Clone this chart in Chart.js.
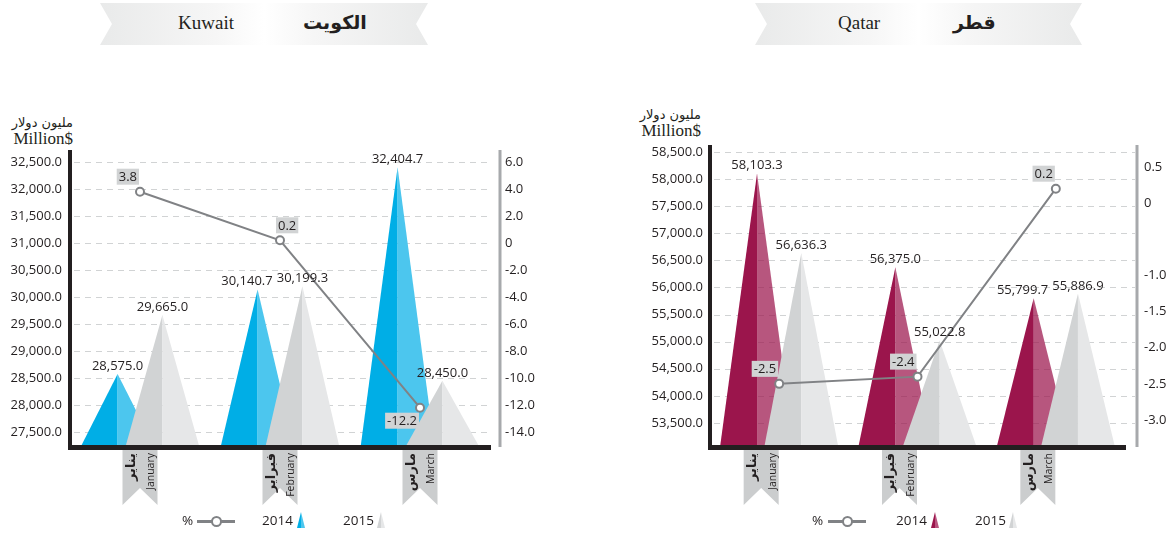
<!DOCTYPE html>
<html lang="en">
<head>
<meta charset="UTF-8">
<title>Kuwait / Qatar</title>
<script src="https://cdn.jsdelivr.net/npm/chart.js"></script>
<style>
  body { margin:0; width:1175px; height:533px; position:relative; overflow:hidden; background:#fff;
         font-family:"Open Sans", sans-serif; color:#231f20; }
  canvas { position:absolute; top:0; }
  .banner { position:absolute; top:3px; height:42px;
            background:linear-gradient(90deg,#e9eaea 0%,#f6f6f6 35%,#fff 50%,#f6f6f6 65%,#e9eaea 100%);
            clip-path:polygon(0 0,100% 0,calc(100% - 12px) 50%,100% 100%,0 100%,12px 50%); }
  .banner .en { position:absolute; top:9px; font-family:"Liberation Serif", serif; font-size:19px; }
  .banner .ar { position:absolute; top:8px; font-family:"DejaVu Sans", sans-serif; font-weight:bold; font-size:19px; }
  .unit { position:absolute; width:70px; text-align:right; }
  .unit .ar { font-family:"DejaVu Sans", sans-serif; font-size:13px; line-height:14px; }
  .unit .en { font-family:"Liberation Serif", serif; font-size:17px; line-height:17px; }
  .lg { position:absolute; top:511px; font-size:13.5px; line-height:18px; }
  .lgline { position:absolute; top:520px; height:3px; width:38px; background:#808285; }
  .lgdot { position:absolute; top:516px; width:7px; height:7px; border:2px solid #808285; border-radius:50%; background:#fff; }
  .tri { position:absolute; top:512px; width:8px; height:16px; clip-path:polygon(50% 0,100% 100%,0 100%); }
</style>
</head>
<body>
  <div class="banner" style="left:100px;width:328px">
    <span class="en" style="left:78px">Kuwait</span>
    <span class="ar" style="left:203px">الكويت</span>
  </div>
  <div class="banner" style="left:755px;width:327px">
    <span class="en" style="left:83px">Qatar</span>
    <span class="ar" style="left:198px">قطر</span>
  </div>

  <div class="unit" style="left:3px;top:116px"><div class="ar">مليون دولار</div><div class="en">Million$</div></div>
  <div class="unit" style="left:631px;top:108px"><div class="ar">مليون دولار</div><div class="en">Million$</div></div>

  <canvas id="kuwait" width="560" height="533" style="left:0"></canvas>
  <canvas id="qatar" width="585" height="533" style="left:590px"></canvas>

  <!-- legends -->
  <span class="lg" style="left:182px">%</span>
  <div class="lgline" style="left:197px"></div>
  <div class="lgdot" style="left:211px"></div>
  <span class="lg" style="left:262px">2014</span>
  <div class="tri" style="left:297px;background:linear-gradient(90deg,#00aee6 50%,#4cc6ee 50%)"></div>
  <span class="lg" style="left:343px">2015</span>
  <div class="tri" style="left:377px;background:linear-gradient(90deg,#d1d3d4 50%,#e6e7e8 50%)"></div>

  <span class="lg" style="left:812px">%</span>
  <div class="lgline" style="left:828px"></div>
  <div class="lgdot" style="left:842px"></div>
  <span class="lg" style="left:896px">2014</span>
  <div class="tri" style="left:931px;background:linear-gradient(90deg,#9b154c 50%,#b9557f 50%)"></div>
  <span class="lg" style="left:975px">2015</span>
  <div class="tri" style="left:1009px;background:linear-gradient(90deg,#d1d3d4 50%,#e6e7e8 50%)"></div>

<script>
const months = ['January', 'February', 'March'];
const monthsAr = ['يناير', 'فبراير', 'مارس'];

const kuwait2014 = [28575.0, 30140.7, 32404.7];
const kuwait2015 = [29665.0, 30199.3, 28450.0];
const kuwaitChange = [3.8, 0.2, -12.2];
const kuwaitTicks = [27500, 28000, 28500, 29000, 29500, 30000, 30500, 31000, 31500, 32000, 32500];
const kuwaitChangeTicks = [-14, -12, -10, -8, -6, -4, -2, 0, 2, 4, 6];

const qatar2014 = [58103.3, 56375.0, 55799.7];
const qatar2015 = [56636.3, 55022.8, 55886.9];
const qatarChange = [-2.5, -2.4, 0.2];
const qatarTicks = [53500, 54000, 54500, 55000, 55500, 56000, 56500, 57000, 57500, 58000, 58500];
const qatarChangeTicks = [-3, -2.5, -2, -1.5, -1, 0, 0.5];

const FONT = '"Open Sans", sans-serif';
const INK = '#231f20';

function fmtNum(v) {
  return v.toLocaleString('en-US', { minimumFractionDigits: 1, maximumFractionDigits: 1 });
}
function fmtPct(v) {
  return v === 0 ? '0' : v.toFixed(1);
}

// draws the pyramids, value labels, % boxes, month ribbons and the grey right axis
const pyramids = {
  id: 'pyramids',
  beforeDatasetsDraw(chart, args, o) {
    const { ctx, chartArea: a, scales } = chart;
    ctx.save();
    ctx.strokeStyle = '#d1d3d4';
    ctx.lineWidth = 1;
    ctx.setLineDash([6, 5]);
    scales.y.ticks.forEach(t => {
      const y = Math.round(scales.y.getPixelForValue(t.value)) + 0.5;
      ctx.beginPath();
      ctx.moveTo(a.left + 4, y);
      ctx.lineTo(a.right + o.gridExtra, y);
      ctx.stroke();
    });
    ctx.setLineDash([]);
    [0, 1].forEach(di => {
      const [dark, light] = o.colors[di];
      chart.getDatasetMeta(di).data.forEach(el => {
        // bars start below the visible range, so the pyramids sit on the axis
        const x = el.x, top = el.y, base = Math.min(el.base, a.bottom), hw = o.halfWidth;
        ctx.fillStyle = dark;
        ctx.beginPath();
        ctx.moveTo(x - hw, base); ctx.lineTo(x, top); ctx.lineTo(x, base);
        ctx.closePath(); ctx.fill();
        ctx.fillStyle = light;
        ctx.beginPath();
        ctx.moveTo(x, base); ctx.lineTo(x, top); ctx.lineTo(x + hw, base);
        ctx.closePath(); ctx.fill();
      });
    });
    ctx.restore();
  },
  afterDatasetsDraw(chart, args, o) {
    const ctx = chart.ctx;
    ctx.save();
    ctx.font = '13px ' + FONT;
    ctx.textAlign = 'center';
    ctx.textBaseline = 'alphabetic';

    const labs = [0, 1].map(di => chart.getDatasetMeta(di).data.map((el, i) => ({
      x: el.x, y: el.y - 4, text: fmtNum(chart.data.datasets[di].data[i])
    })));
    labs[0].forEach((l0, i) => {
      const l1 = labs[1][i];
      const w0 = ctx.measureText(l0.text).width, w1 = ctx.measureText(l1.text).width;
      const overlap = (l0.x + w0 / 2) - (l1.x - w1 / 2) + 4;
      if (overlap > 0 && Math.abs(l0.y - l1.y) < 16) l0.x -= overlap;
    });
    ctx.fillStyle = INK;
    labs.flat().forEach(l => ctx.fillText(l.text, l.x, l.y));

    const line = chart.getDatasetMeta(2);
    line.data.forEach((pt, i) => {
      const txt = fmtPct(chart.data.datasets[2].data[i]);
      const w = ctx.measureText(txt).width + 4, h = 16;
      const pl = o.pctPlace[i];
      const bx = pl[1] === 'l' ? pt.x - w - 1 : pt.x - 4;
      const by = pl[0] === 'a' ? pt.y - 7 - h : pt.y + 5;
      ctx.fillStyle = '#d1d3d4';
      ctx.fillRect(bx, by, w, h);
      ctx.fillStyle = INK;
      ctx.fillText(txt, bx + w / 2, by + 12.5);
    });
    ctx.restore();
  },
  afterDraw(chart, args, o) {
    const { ctx, chartArea: a, scales } = chart;
    ctx.save();
    ctx.fillStyle = '#a7a9ac';
    ctx.fillRect(a.right + o.rightGap - 1.5, a.top - 2, 3, a.bottom - a.top + 2);

    chart.data.labels.forEach((m, i) => {
      const cx = scales.x.getPixelForValue(i) + o.ribbonShift;
      const l = cx - 17.5, r = cx + 17.5, t = a.bottom + 3, b = 505;
      ctx.fillStyle = '#cbcdce';
      ctx.beginPath();
      ctx.moveTo(l, t); ctx.lineTo(r, t); ctx.lineTo(r, b);
      ctx.lineTo(cx, b - 17); ctx.lineTo(l, b);
      ctx.closePath(); ctx.fill();

      ctx.fillStyle = INK;
      ctx.textAlign = 'right';
      ctx.textBaseline = 'middle';
      ctx.save();
      ctx.translate(l + 9, t + 3);
      ctx.rotate(-Math.PI / 2);
      ctx.font = 'bold 13px "DejaVu Sans", sans-serif';
      ctx.fillText(o.arabic[i], 0, 0);
      ctx.restore();
      ctx.save();
      ctx.translate(l + 29, t + 3);
      ctx.rotate(-Math.PI / 2);
      ctx.font = '10.5px ' + FONT;
      ctx.fillText(m, 0, 0);
      ctx.restore();
    });
    ctx.restore();
  }
};

function makeChart(id, d, s) {
  return new Chart(document.getElementById(id), {
    data: {
      labels: months,
      datasets: [
        { type: 'bar', label: '2014', data: d.v2014, yAxisID: 'y', backgroundColor: 'transparent' },
        { type: 'bar', label: '2015', data: d.v2015, yAxisID: 'y', backgroundColor: 'transparent' },
        { type: 'line', label: '%', data: d.change, yAxisID: 'y1',
          borderColor: '#808285', borderWidth: 2, pointRadius: 4, pointBorderWidth: 2,
          pointBackgroundColor: '#fff', pointBorderColor: '#808285' }
      ]
    },
    options: {
      responsive: false,
      devicePixelRatio: 1,
      animation: false,
      layout: { padding: { top: s.top, bottom: 86, left: 0, right: 0 } },
      datasets: { bar: { categoryPercentage: 0.64, barPercentage: 1 } },
      plugins: {
        legend: { display: false },
        tooltip: { enabled: false },
        pyramids: {
          colors: s.colors, halfWidth: 37, gridExtra: s.gridExtra, rightGap: s.rightGap,
          ribbonShift: s.ribbonShift, pctPlace: s.pctPlace, arabic: monthsAr
        }
      },
      scales: {
        x: {
          grid: { display: false },
          ticks: { display: false },
          border: { color: INK, width: 5, z: 1 },
          afterFit: sc => { sc.height = 0; }
        },
        y: {
          position: 'left',
          min: s.yMin, max: s.yMax,
          afterBuildTicks: sc => { sc.ticks = d.ticks.map(v => ({ value: v })); },
          afterFit: sc => { sc.width = s.leftW; },
          grid: { display: false, drawTicks: false },
          border: { color: INK, width: 4, z: 1 },
          ticks: { autoSkip: false, padding: s.leftPad, color: INK, font: { family: FONT, size: 13 }, callback: v => fmtNum(v) }
        },
        y1: {
          position: 'right',
          min: s.pMin, max: s.pMax,
          afterBuildTicks: sc => { sc.ticks = d.changeTicks.map(v => ({ value: v })); },
          afterFit: sc => { sc.width = s.rightW; },
          grid: { display: false, drawTicks: false },
          border: { display: false },
          ticks: { autoSkip: false, padding: s.rightPad, color: INK, font: { family: FONT, size: 13 }, callback: v => fmtPct(v) }
        }
      }
    },
    plugins: [pyramids]
  });
}

makeChart('kuwait',
  { v2014: kuwait2014, v2015: kuwait2015, change: kuwaitChange, ticks: kuwaitTicks, changeTicks: kuwaitChangeTicks },
  { top: 152, leftW: 70, rightW: 70, leftPad: 8, rightPad: 15,
    yMin: 27222, yMax: 32685, pMin: -15.11, pMax: 6.74,
    gridExtra: -2, rightGap: 10, ribbonShift: 0,
    pctPlace: ['al', 'ar', 'bl'],
    colors: [['#00aee6', '#4cc6ee'], ['#d1d3d4', '#e6e7e8']] });

makeChart('qatar',
  { v2014: qatar2014, v2015: qatar2015, change: qatarChange, ticks: qatarTicks, changeTicks: qatarChangeTicks },
  { top: 147, leftW: 120, rightW: 50, leftPad: 7, rightPad: 19,
    yMin: 53057, yMax: 58592, pMin: -3.3735, pMax: 0.7767,
    gridExtra: 10, rightGap: 12, ribbonShift: -18,
    pctPlace: ['al', 'al', 'al'],
    colors: [['#9b154c', 'rgba(155,21,76,0.72)'], ['#d1d3d4', '#e6e7e8']] });
</script>
</body>
</html>
